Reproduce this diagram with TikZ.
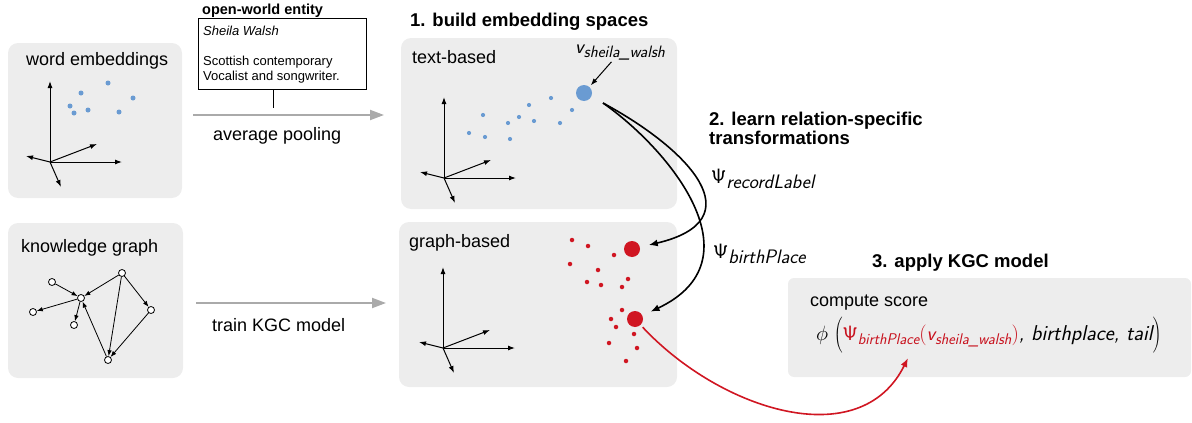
\documentclass[tikz,border=0pt]{standalone}
\usepackage[no-math]{fontspec}
\setmainfont{Liberation Sans}
\usetikzlibrary{arrows.meta}
\definecolor{boxgray}{RGB}{237,237,237}
\definecolor{dotblue}{RGB}{106,155,210}
\definecolor{dotred}{RGB}{208,22,34}
\definecolor{formred}{RGB}{200,18,30}
\definecolor{arrgray}{RGB}{170,170,170}
\newcommand{\lblfont}{\fontsize{18}{22}\selectfont}
\newcommand{\hdrfont}{\fontsize{18.5}{22}\selectfont\bfseries}
\newcommand{\sfit}{\sffamily\itshape}
\newcommand{\mysub}[3]{\raisebox{-#2}{\fontsize{#1}{#1}\selectfont\sffamily\itshape #3}}
\newcommand{\tallstrut}{\vrule height 22pt depth 12pt width 0pt}
\begin{document}
\begin{tikzpicture}[x=1pt,y=-1pt,
 panel/.style={fill=boxgray, rounded corners=10pt},
 lab/.style={inner sep=0pt, anchor=base west, font=\lblfont},
 hd/.style={inner sep=0pt, anchor=base west, font=\hdrfont},
 small/.style={inner sep=0pt, anchor=base west, font=\fontsize{13}{15}\selectfont},
 axis/.style={-{Latex[length=7pt,width=5pt]}, line width=1pt},
 bdot/.style={circle, fill=dotblue, inner sep=0pt, minimum size=4.5pt},
 rdot/.style={circle, fill=dotred, inner sep=0pt, minimum size=4.5pt},
 kgnode/.style={circle, draw, fill=white, inner sep=0pt, minimum size=7pt, line width=0.8pt},
 kgedge/.style={-{Latex[length=6pt,width=4.5pt]}, line width=0.8pt},
 flow/.style={draw=arrgray, line width=2pt, -{Triangle[length=14pt,width=10pt,fill=arrgray]}},
 trans/.style={line width=1.6pt, -{Latex[length=9pt,width=7pt]}},
 annot/.style={line width=1pt, -{Latex[length=7pt,width=5pt]}},
 axes/.pic={
   \draw[axis] (0,0) -- (0,-81);
   \draw[axis] (0,0) -- (72,0);
   \draw[axis] (0,0) -- (47,-18);
   \draw[axis] (0,0) -- (-24,-6);
   \draw[axis] (0,0) -- (11,25);
 },
]
\useasboundingbox (0,0) rectangle (1192,423);

% ---------- panels ----------
\path[panel] (8,43) rectangle (182,198);
\path[panel] (8,223) rectangle (183,378);
\path[panel] (401,38) rectangle (677,209);
\path[panel] (399,222) rectangle (677,387);
\path[fill=boxgray, rounded corners=6pt] (788,278) rectangle (1191,377);

% ---------- word embeddings ----------
\node[lab] (wetitle) at (26,65) {word embeddings};
\pic at (50,162) {axes};
\foreach \n/\x/\y in {w1/108/83, w2/81/93, w3/70/106, w4/74/113, w5/88/110, w6/119/112, w7/133/98}
  \node[bdot, minimum size=5pt] (\n) at (\x,\y) {};

% ---------- knowledge graph ----------
\node[lab] (kgtitle) at (21,252) {knowledge graph};
\node[kgnode] (kgA) at (52,282) {};
\node[kgnode] (kgB) at (81,298) {};
\node[kgnode] (kgC) at (33,312) {};
\node[kgnode] (kgD) at (74,325) {};
\node[kgnode] (kgE) at (122,273) {};
\node[kgnode] (kgF) at (151,310) {};
\node[kgnode] (kgG) at (108,360) {};
\draw[kgedge] (kgA) -- (kgB);
\draw[kgedge] (kgB) -- (kgC);
\draw[kgedge] (kgB) -- (kgD);
\draw[kgedge] (kgE) -- (kgB);
\draw[kgedge] (kgE) -- (kgF);
\draw[kgedge] (kgE) -- (kgG);
\draw[kgedge] (kgF) -- (kgG);
\draw[kgedge] (kgG) -- (kgB);

% ---------- open-world entity ----------
\node[inner sep=0pt, anchor=base west, font=\fontsize{14.5}{16}\selectfont\bfseries] (owtitle) at (202,14) {open-world entity};
\node[draw, line width=0.8pt, fill=white, minimum width=168pt, minimum height=71pt, anchor=north west, inner sep=0pt] (owbox) at (198,18) {};
\node[small, font=\fontsize{13}{15}\selectfont\itshape] (owname) at (203,35) {Sheila Walsh};
\node[small] (owd1) at (203,65) {Scottish contemporary};
\node[small] (owd2) at (203,80) {Vocalist and songwriter.};
\coordinate (owtick) at (273,108);
\draw[line width=0.8pt] (owbox.south -| owtick) -- (owtick);

% ---------- flow arrows ----------
\coordinate (f1s) at (193,115);
\coordinate (f1e) at (384,115);
\draw[flow] (f1s) -- (f1e);
\node[lab] (avgpool) at (213,140) {average pooling};
\coordinate (f2s) at (196,303);
\coordinate (f2e) at (386,303);
\draw[flow] (f2s) -- (f2e);
\node[lab] (trainkgc) at (212,331) {train KGC model};

% ---------- step 1 ----------
\node[hd] (step1) at (410,27) {1. build embedding spaces};
\node[lab] (tbtitle) at (412,63) {text-based};
\node[lab] (gbtitle) at (409,247) {graph-based};
\pic at (444,178) {axes};
\pic at (443,348) {axes};

\foreach \n/\x/\y in {t1/551/98, t2/529/105, t3/483/115, t4/519/117, t5/508/123, t6/534/121, t7/560/123, t8/572/110, t9/469/133, t10/485/137, t11/510/139}
  \node[bdot, minimum size=4.2pt] (\n) at (\x,\y) {};
\node[circle, fill=dotblue, inner sep=0pt, minimum size=16pt] (bbig) at (584,93) {};
\node[inner sep=2pt, anchor=base west, font=\fontsize{20}{22}\selectfont\sffamily\itshape] (vlab) at (573,53) {v\mysub{16.5}{4pt}{sheila\_walsh}};
\draw[annot, shorten >=2pt] (vlab) -- (bbig);

\foreach \n/\x/\y in {r1/572/240, r2/588/246, r3/614/255, r4/570/264, r5/598/270, r6/587/282, r7/601/285, r8/622/287, r9/628/279, r10/622/310, r11/611/319, r12/616/327, r13/634/334, r14/609/343, r15/637/348, r16/626/361}
  \node[rdot] (\n) at (\x,\y) {};
\node[circle, fill=dotred, inner sep=0pt, minimum size=16pt] (rbig1) at (632,249) {};
\node[circle, fill=dotred, inner sep=0pt, minimum size=16pt] (rbig2) at (635,319) {};

% ---------- step 2 ----------
\node[hd] (step2a) at (709,125) {2. learn relation-specific};
\node[hd] (step2b) at (709,144) {transformations};
\coordinate (cstart) at (603,103);
\draw[trans, shorten >=9pt] (cstart) .. controls (690,150) and (755,220) .. (rbig1);
\draw[trans, shorten >=9pt] (cstart) .. controls (670,150) and (760,260) .. (rbig2);
\node[inner sep=0pt, anchor=base west, font=\fontsize{22}{24}\selectfont] (psi1) at (711,183) {$\mathsf{\Psi}$\mysub{19.5}{5pt}{recordLabel}};
\node[inner sep=0pt, anchor=base west, font=\fontsize{22}{24}\selectfont] (psi2) at (713,258) {$\mathsf{\Psi}$\mysub{19.5}{5pt}{birthPlace}};

% ---------- step 3 ----------
\node[hd] (step3) at (872,267) {3. apply KGC model};
\node[lab] (compscore) at (810,306) {compute score};
\node[inner sep=0pt, anchor=base west, font=\fontsize{20}{24}\selectfont] (formula) at (816,340)
  {\nulldelimiterspace=0pt$\phi\mkern2mu\left(\tallstrut\right.$%
   {\color{formred}$\mathsf{\Psi}$\mysub{15.5}{4pt}{birthPlace}$\bigl($\sfit v\mysub{15.5}{4pt}{sheila\_walsh}$\bigr)$}%
   {\fontsize{21.5}{24}\selectfont\sfit, birthplace, tail}$\left.\tallstrut\right)$};
\coordinate (redtip) at (908,358);
\draw[draw=dotred, line width=1.6pt, -{Latex[length=9pt,width=7pt]}, shorten <=3pt] (rbig2) .. controls (720,410) and (860,455) .. (redtip);
\end{tikzpicture}
\end{document}
